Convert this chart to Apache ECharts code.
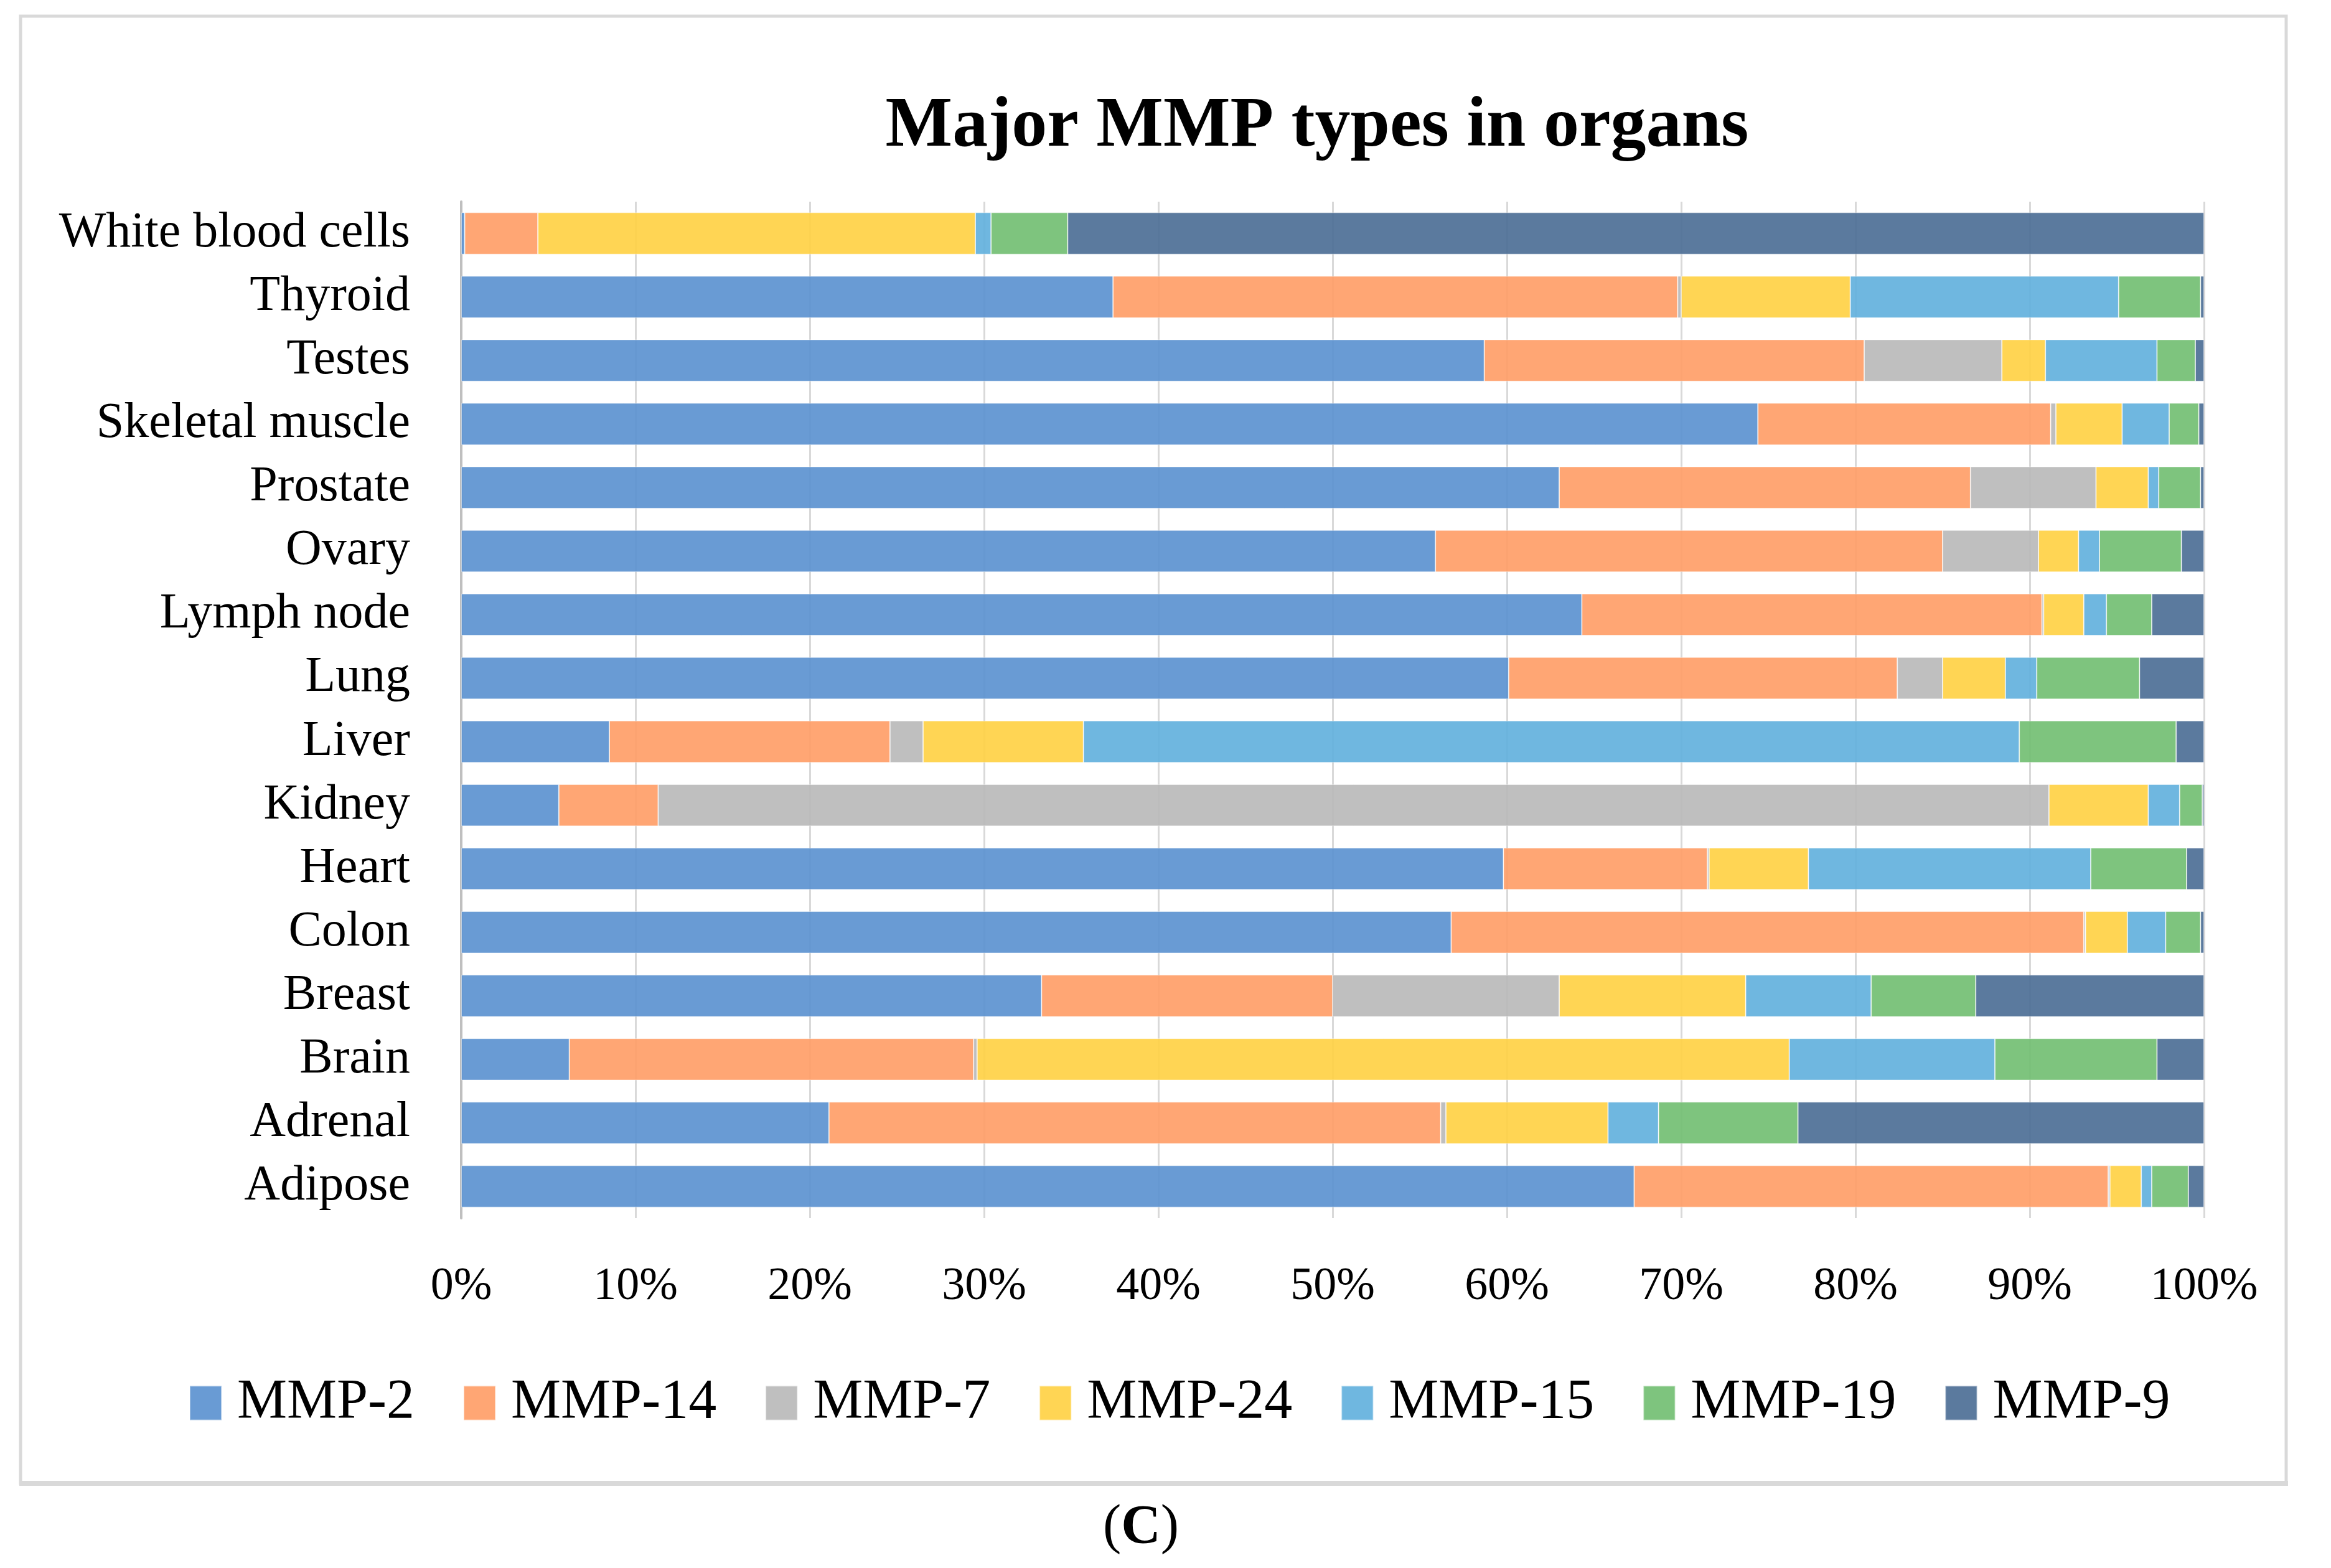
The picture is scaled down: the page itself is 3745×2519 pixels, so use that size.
<!DOCTYPE html>
<html>
<head>
<meta charset="utf-8">
<script src="https://cdn.jsdelivr.net/npm/echarts@6/dist/echarts.min.js"></script>
<style>
html,body{margin:0;padding:0;background:#fff;}
#chart{width:3745px;height:2519px;}
</style>
</head>
<body>
<div id="chart"></div>
<script>
// Categories listed top to bottom as in the picture
const organs = ["White blood cells","Thyroid","Testes","Skeletal muscle","Prostate","Ovary","Lymph node","Lung","Liver","Kidney","Heart","Colon","Breast","Brain","Adrenal","Adipose"];
const seriesNames = ["MMP-2","MMP-14","MMP-7","MMP-24","MMP-15","MMP-19","MMP-9"];
const xTicks = [0,10,20,30,40,50,60,70,80,90,100];

// Percent share per organ (same order as organs)
const mmp2  = [0.2, 37.4, 58.7, 74.4, 63.0, 55.9, 64.3, 60.1,  8.5,  5.6, 59.8, 56.8, 33.3,  6.2, 21.1, 67.3];
const mmp14 = [4.2, 32.4, 21.8, 16.8, 23.6, 29.1, 26.4, 22.3, 16.1,  5.7, 11.7, 36.3, 16.7, 23.2, 35.1, 27.2];
const mmp7  = [0.0,  0.2,  7.9,  0.3,  7.2,  5.5,  0.1,  2.6,  1.9, 79.8,  0.1,  0.1, 13.0,  0.2,  0.3,  0.1];
const mmp24 = [25.1, 9.7,  2.5,  3.8,  3.0,  2.3,  2.3,  3.6,  9.2,  5.7,  5.7,  2.4, 10.7, 46.6,  9.3,  1.8];
const mmp15 = [0.9, 15.4,  6.4,  2.7,  0.6,  1.2,  1.3,  1.8, 53.7,  1.8, 16.2,  2.2,  7.2, 11.8,  2.9,  0.6];
const mmp19 = [4.4,  4.7,  2.2,  1.7,  2.4,  4.7,  2.6,  5.9,  9.0,  1.3,  5.5,  2.0,  6.0,  9.3,  8.0,  2.1];
const mmp9  = [65.2, 0.2,  0.5,  0.3,  0.2,  1.3,  3.0,  3.7,  1.6,  0.1,  1.0,  0.2, 13.1,  2.7, 23.3,  0.9];

const seriesValues = [mmp2, mmp14, mmp7, mmp24, mmp15, mmp19, mmp9];
const colors = ["#5990CF","#FF9C65","#B8B8B8","#FFD041","#5FAFDD","#70BE70","#496C93"];

const FONT = "'Liberation Serif', 'Times New Roman', serif";

const chart = echarts.init(document.getElementById('chart'), null, {renderer:'canvas'});

const option = {
  backgroundColor: '#ffffff',
  animation: false,
  title: {
    text: 'Major MMP types in organs',
    left: 2111,
    top: 143,
    textAlign: 'center',
    textStyle: {fontFamily: FONT, fontWeight: 'bold', fontSize: 114, color: '#000'}
  },
  legend: {
    data: seriesNames,
    left: 299,
    top: 2204,
    itemWidth: 51,
    itemHeight: 55,
    itemGap: 78,
    icon: 'rect',
    textStyle: {fontFamily: FONT, fontSize: 90, color: '#000', padding: [0,0,0,20]}
  },
  grid: {left: 741, right: 204, top: 324, height: 1633, containLabel: false},
  xAxis: {
    type: 'value',
    min: 0, max: 100, interval: 10,
    axisLine: {show: false},
    axisTick: {show: false},
    splitLine: {show: true, lineStyle: {color: '#d9d9d9', width: 3}},
    axisLabel: {
      margin: 74,
      fontFamily: FONT, fontSize: 74, color: '#000',
      formatter: function(v){ return v + '%'; }
    }
  },
  yAxis: {
    type: 'category',
    data: organs,
    inverse: true,
    axisLine: {show: true, lineStyle: {color: '#bfbfbf', width: 4}},
    axisTick: {show: false},
    splitLine: {show: false},
    axisLabel: {interval: 0, margin: 82, fontFamily: FONT, fontSize: 80, color: '#000'}
  },
  series: seriesNames.map(function(name, i){
    return {
      name: name,
      type: 'bar',
      stack: 'total',
      barCategoryGap: '34%',
      data: seriesValues[i],
      itemStyle: {color: colors[i], opacity: 0.9, borderColor: 'rgba(255,255,255,0.5)', borderWidth: 1}
    };
  }),
  graphic: [
    {type: 'rect', shape: {x: 33, y: 26, width: 3640, height: 2357}, style: {fill: 'none', stroke: '#d9d9d9', lineWidth: 5}, silent: true, z: -1},
    {type: 'rect', shape: {x: 31, y: 2379, width: 3645, height: 8}, style: {fill: '#d9d9d9'}, silent: true, z: -1},
    {type: 'text', x: 1833, y: 2455, style: {
      text: '{n|(}{b|C}{n|)}', textAlign: 'center', textVerticalAlign: 'middle',
      rich: {
        n: {fontFamily: FONT, fontSize: 88, color: '#000'},
        b: {fontFamily: FONT, fontSize: 88, fontWeight: 'bold', color: '#000'}
      }
    }}
  ]
};
chart.setOption(option);
</script>
</body>
</html>
